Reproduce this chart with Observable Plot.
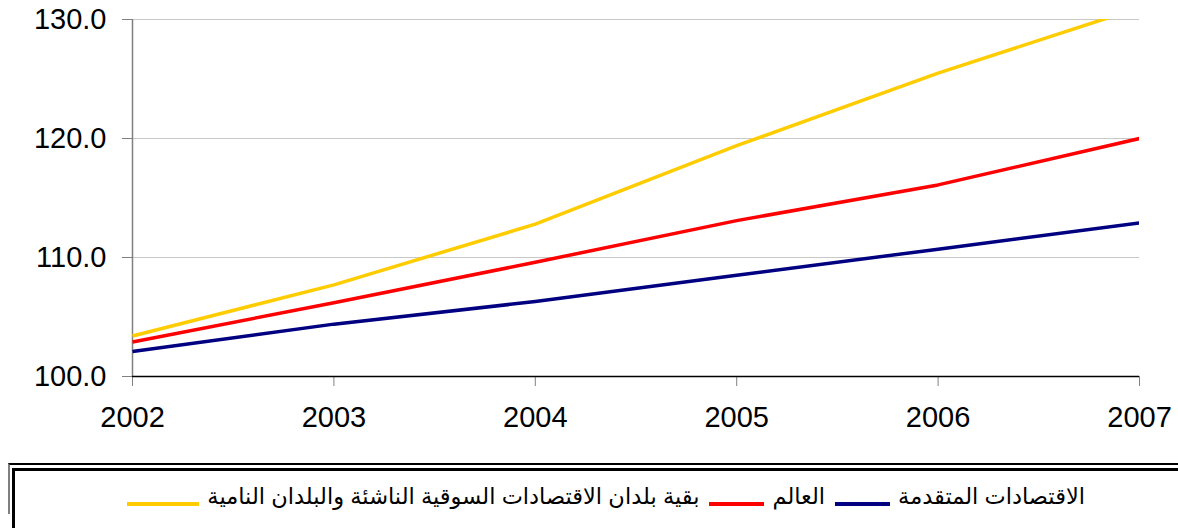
<!DOCTYPE html>
<html>
<head>
<meta charset="utf-8">
<script src="https://cdn.jsdelivr.net/npm/d3@7"></script>
<script src="https://cdn.jsdelivr.net/npm/@observablehq/plot@0.6"></script>
<style>
  html, body { margin: 0; padding: 0; background: #fff; }
  #wrap { position: relative; width: 1178px; height: 528px; overflow: hidden; }
  #legend-outer { position: absolute; left: 8px; top: 463px; width: 1200px; height: 51px;
    border-top: 2px solid #000; border-left: 2px solid #808080; box-sizing: border-box; }
  #legend-inner { position: absolute; left: 12px; top: 468px; width: 1200px; height: 80px;
    border-top: 3px solid #000; border-left: 3px solid #000; box-sizing: border-box; }
  #legend { position: absolute; right: 93px; top: 483px; display: flex; direction: rtl; align-items: center;
    font-family: "Liberation Sans", "DejaVu Sans", Arial, sans-serif; font-size: 22.5px; color: #000; }
  .item { display: flex; align-items: center; margin-left: 10px; }
  .sw { display: inline-block; width: 55px; height: 4px; margin-right: 8px; margin-top: 15px; }
</style>
</head>
<body>
<div id="wrap">
  <div id="chart"></div>
  <div id="legend-outer"></div>
  <div id="legend-inner"></div>
  <div id="legend"></div>
</div>
<script>
const years = [2002, 2003, 2004, 2005, 2006, 2007];
const seriesNames = [
  "الاقتصادات المتقدمة",
  "العالم",
  "بقية بلدان الاقتصادات السوقية الناشئة والبلدان النامية"
];
const seriesColors = ["#000080", "#FF0000", "#FFCC00"];
const advanced = [102.1, 104.4, 106.3, 108.5, 110.7, 112.9];
const world = [102.9, 106.2, 109.6, 113.1, 116.1, 120.0];
const emerging = [103.4, 107.7, 112.8, 119.4, 125.5, 131.0];
const yTicks = [100, 110, 120, 130];

const allValues = [advanced, world, emerging];
const rows = [];
allValues.forEach((vals, i) => {
  vals.forEach((v, j) => rows.push({year: years[j], value: v, series: seriesNames[i]}));
});

const plot = Plot.plot({
  width: 1178,
  height: 455,
  marginTop: 19,
  marginBottom: 79,
  marginLeft: 132,
  marginRight: 39,
  style: { fontFamily: "'Liberation Sans', Arial, sans-serif", fontSize: "29px", color: "#000", background: "#fff" },
  x: { domain: [2002, 2007], ticks: years, tickFormat: d => String(d) },
  y: { domain: [100, 130], ticks: yTicks },
  color: { domain: seriesNames, range: seriesColors },
  marks: [
    Plot.gridY(yTicks.filter(d => d > 100), { stroke: "#c8c8c8", strokeOpacity: 1, strokeWidth: 1 }),
    Plot.ruleX([2002], { y1: 100, y2: 130, stroke: "#808080", strokeWidth: 1.5 }),
    Plot.axisY({ ticks: yTicks, tickFormat: d => d.toFixed(1), tickSize: 10, tickPadding: 16,
      stroke: "#808080", strokeOpacity: 1, fontSize: 29, label: null }),
    Plot.axisX({ ticks: years, tickFormat: d => String(d), tickSize: 10, tickPadding: 20,
      stroke: "#808080", strokeOpacity: 1, fontSize: 29, label: null }),
    Plot.ruleY([100], { stroke: "#000", strokeWidth: 1.5 }),
    Plot.line(rows, { x: "year", y: "value", z: "series", stroke: "series", strokeWidth: 3.5, clip: true,
      strokeLinejoin: "round", strokeLinecap: "butt", curve: "linear" })
  ]
});
document.getElementById("chart").appendChild(plot);

const legend = document.getElementById("legend");
seriesNames.forEach((name, i) => {
  const item = document.createElement("div");
  item.className = "item";
  const t = document.createElement("span");
  t.textContent = name;
  const sw = document.createElement("span");
  sw.className = "sw";
  sw.style.background = seriesColors[i];
  if (i === 2) sw.style.width = "72px";
  item.appendChild(t);
  item.appendChild(sw);
  legend.appendChild(item);
});
</script>
</body>
</html>
